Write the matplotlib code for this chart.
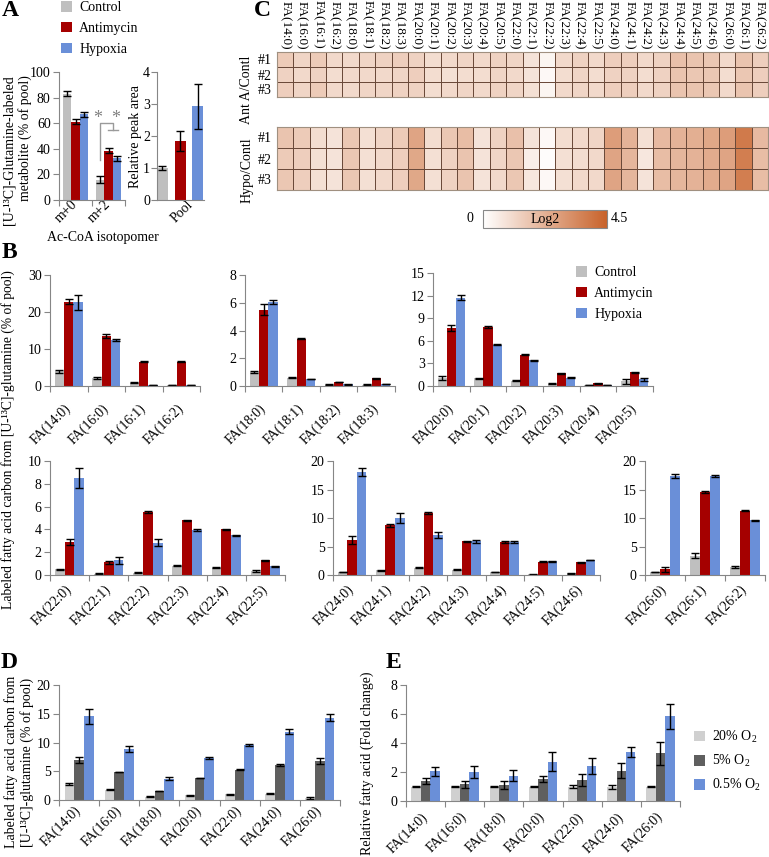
import numpy as np
import matplotlib
matplotlib.use("Agg")
import matplotlib.pyplot as plt
from matplotlib.colors import LinearSegmentedColormap
from matplotlib.patches import Patch

plt.rcParams['font.family'] = ['Liberation Serif', 'DejaVu Serif']
plt.rcParams['font.size'] = 10
plt.rcParams['mathtext.fontset'] = 'custom'
plt.rcParams['mathtext.rm'] = 'Liberation Serif'

C_CTRL, C_ANT, C_HYP = '#BFBFBF', '#A50000', '#6A8FD8'
C_20, C_5 = '#D0D0D0', '#5F5F5F'
AXC = '#868686'

# ---- panel A
a_iso = ['m+0', 'm+2']
a_ctrl, a_ctrl_err = [83, 16], [2, 2.5]
a_ant, a_ant_err = [61, 38.5], [2, 2]
a_hyp, a_hyp_err = [67, 32.5], [2, 2]
pool = [1.0, 1.85, 2.93]
pool_err = [0.06, 0.32, 0.7]

# ---- panel C (log2 ratio vs control)
fa_all = ['FA(14:0)', 'FA(16:0)', 'FA(16:1)', 'FA(16:2)', 'FA(18:0)', 'FA(18:1)',
          'FA(18:2)', 'FA(18:3)', 'FA(20:0)', 'FA(20:1)', 'FA(20:2)', 'FA(20:3)',
          'FA(20:4)', 'FA(20:5)', 'FA(22:0)', 'FA(22:1)', 'FA(22:2)', 'FA(22:3)',
          'FA(22:4)', 'FA(22:5)', 'FA(24:0)', 'FA(24:1)', 'FA(24:2)', 'FA(24:3)',
          'FA(24:4)', 'FA(24:5)', 'FA(24:6)', 'FA(26:0)', 'FA(26:1)', 'FA(26:2)']
ant_r1 = [1.5, 1.2, 1.5, 1.1, 1.1, 1.2, 1.3, 1.4, 1.3, 1.0, 1.1, 1.2, 1.1, 1.3, 1.2,
          0.8, 0.3, 1.1, 1.3, 1.1, 1.4, 1.4, 1.1, 1.3, 1.8, 1.7, 1.6, 1.1, 1.7, 1.4]
ant_r2 = [1.3, 1.1, 1.3, 1.0, 1.1, 1.1, 1.1, 1.2, 1.4, 1.0, 0.9, 1.0, 1.0, 1.2, 1.1,
          0.8, 0.2, 1.0, 1.2, 1.0, 1.3, 1.3, 1.0, 1.3, 1.7, 1.6, 1.6, 1.0, 1.6, 1.4]
ant_r3 = [1.4, 1.2, 1.5, 1.1, 1.1, 1.2, 1.2, 1.3, 1.3, 1.0, 1.1, 1.2, 1.1, 1.3, 1.2,
          0.9, 0.3, 1.1, 1.2, 1.1, 1.4, 1.4, 1.1, 1.3, 1.7, 1.7, 1.6, 1.1, 1.7, 1.4]
hyp_r1 = [1.7, 1.5, 1.0, 0.8, 1.6, 0.9, 1.2, 1.5, 2.6, 1.0, 1.6, 1.9, 0.8, 1.3, 1.8,
          0.8, 0.2, 1.0, 1.1, 1.2, 2.8, 2.2, 0.9, 2.0, 2.2, 2.3, 2.5, 2.8, 3.8, 2.0]
hyp_r2 = [1.5, 1.4, 0.9, 0.8, 1.6, 0.9, 1.1, 1.4, 2.5, 0.9, 1.3, 1.7, 0.8, 1.2, 1.6,
          0.5, 0.1, 0.9, 1.0, 1.1, 2.6, 2.1, 0.7, 1.9, 2.1, 2.2, 2.4, 2.6, 3.7, 1.9]
hyp_r3 = [1.6, 1.4, 0.9, 0.8, 1.6, 0.9, 1.1, 1.4, 2.5, 0.9, 1.3, 1.7, 0.8, 1.1, 1.6,
          0.7, 0.2, 0.9, 1.1, 1.1, 2.6, 2.1, 0.8, 1.9, 2.1, 2.2, 2.4, 2.6, 3.7, 1.9]

# ---- panel B
b1_cats = ['FA(14:0)', 'FA(16:0)', 'FA(16:1)', 'FA(16:2)']
b1_ctrl, b1_ctrl_e = [4.0, 2.2, 0.9, 0.2], [0.4, 0.2, 0.1, 0.05]
b1_ant, b1_ant_e = [22.8, 13.6, 6.6, 6.6], [0.6, 0.5, 0.15, 0.15]
b1_hyp, b1_hyp_e = [22.6, 12.4, 0.3, 0.3], [2.0, 0.2, 0.05, 0.05]

b2_cats = ['FA(18:0)', 'FA(18:1)', 'FA(18:2)', 'FA(18:3)']
b2_ctrl, b2_ctrl_e = [1.0, 0.6, 0.1, 0.1], [0.08, 0.03, 0.02, 0.02]
b2_ant, b2_ant_e = [5.5, 3.4, 0.3, 0.55], [0.4, 0.04, 0.02, 0.03]
b2_hyp, b2_hyp_e = [6.05, 0.5, 0.12, 0.15], [0.15, 0.03, 0.02, 0.02]

b3_cats = ['FA(20:0)', 'FA(20:1)', 'FA(20:2)', 'FA(20:3)', 'FA(20:4)', 'FA(20:5)']
b3_ctrl, b3_ctrl_e = [1.1, 1.0, 0.7, 0.3, 0.15, 0.6], [0.25, 0.1, 0.05, 0.05, 0.02, 0.3]
b3_ant, b3_ant_e = [7.7, 7.85, 4.15, 1.7, 0.35, 1.8], [0.45, 0.1, 0.1, 0.08, 0.03, 0.1]
b3_hyp, b3_hyp_e = [11.7, 5.5, 3.4, 1.1, 0.1, 0.9], [0.35, 0.05, 0.05, 0.05, 0.02, 0.2]

b4_cats = ['FA(22:0)', 'FA(22:1)', 'FA(22:2)', 'FA(22:3)', 'FA(22:4)', 'FA(22:5)']
b4_ctrl, b4_ctrl_e = [0.5, 0.1, 0.2, 0.8, 0.65, 0.35], [0.05, 0.05, 0.05, 0.05, 0.05, 0.05]
b4_ant, b4_ant_e = [2.9, 1.1, 5.5, 4.8, 4.0, 1.3], [0.3, 0.1, 0.1, 0.03, 0.05, 0.03]
b4_hyp, b4_hyp_e = [8.5, 1.3, 2.85, 3.95, 3.5, 0.75], [0.85, 0.3, 0.3, 0.05, 0.05, 0.05]

b5_cats = ['FA(24:0)', 'FA(24:1)', 'FA(24:2)', 'FA(24:3)', 'FA(24:4)', 'FA(24:5)', 'FA(24:6)']
b5_ctrl, b5_ctrl_e = [0.5, 0.8, 1.3, 0.9, 0.5, 0.1, 0.3], [0.05, 0.1, 0.1, 0.1, 0.05, 0.05, 0.05]
b5_ant, b5_ant_e = [6.2, 8.7, 10.9, 5.9, 5.8, 2.3, 2.2], [0.7, 0.3, 0.2, 0.1, 0.1, 0.1, 0.1]
b5_hyp, b5_hyp_e = [18.1, 10.0, 7.0, 5.9, 5.8, 2.4, 2.65], [0.7, 0.9, 0.5, 0.2, 0.15, 0.05, 0.05]

b6_cats = ['FA(26:0)', 'FA(26:1)', 'FA(26:2)']
b6_ctrl, b6_ctrl_e = [0.5, 3.4, 1.4], [0.05, 0.45, 0.1]
b6_ant, b6_ant_e = [1.0, 14.5, 11.3], [0.4, 0.2, 0.1]
b6_hyp, b6_hyp_e = [17.4, 17.4, 9.6], [0.4, 0.2, 0.05]

# ---- panels D / E
de_cats = ['FA(14:0)', 'FA(16:0)', 'FA(18:0)', 'FA(20:0)', 'FA(22:0)', 'FA(24:0)', 'FA(26:0)']
d_20, d_20_e = [2.8, 1.8, 0.6, 0.8, 1.0, 1.1, 0.4], [0.2, 0.1, 0.05, 0.05, 0.05, 0.1, 0.2]
d_5, d_5_e = [7.0, 4.9, 1.6, 3.8, 5.3, 6.1, 6.8], [0.5, 0.05, 0.05, 0.05, 0.1, 0.2, 0.5]
d_05, d_05_e = [14.6, 8.9, 3.7, 7.3, 9.6, 11.9, 14.3], [1.3, 0.5, 0.3, 0.2, 0.2, 0.4, 0.6]
e_20, e_20_e = [1.0, 1.0, 1.0, 1.0, 1.0, 0.95, 1.0], [0.03, 0.03, 0.03, 0.03, 0.1, 0.15, 0.03]
e_5, e_5_e = [1.4, 1.15, 1.1, 1.5, 1.45, 2.1, 3.3], [0.2, 0.25, 0.25, 0.2, 0.4, 0.5, 0.8]
e_05, e_05_e = [2.05, 2.0, 1.75, 2.7, 2.4, 3.4, 5.85], [0.3, 0.4, 0.4, 0.65, 0.55, 0.35, 0.85]

W, H = 769, 857
fig = plt.figure(figsize=(W / 100, H / 100), dpi=100)


def px_axes(x0, y0, x1, y1):
    return fig.add_axes([x0 / W, 1 - y1 / H, (x1 - x0) / W, (y1 - y0) / H])


def style(ax, n, lo=-0.5, hi=None, pad=5):
    hi = n - 0.5 if hi is None else hi
    for s in ['top', 'right']:
        ax.spines[s].set_visible(False)
    for s in ['left', 'bottom']:
        ax.spines[s].set_color(AXC)
        ax.spines[s].set_linewidth(0.8)
    ax.tick_params(axis='y', color=AXC, length=4, width=0.8, labelsize=10, pad=2)
    ax.set_xticks(np.arange(n + 1) - 0.5, minor=True)
    ax.tick_params(axis='x', which='minor', length=4, color=AXC, width=0.8)
    ax.tick_params(axis='x', which='major', length=0, pad=pad)
    ax.set_xlim(lo, hi)


def grouped(ax, cats, groups, colors, ylim, yticks, width=0.25, fs=10, pad=5):
    x = np.arange(len(cats))
    for k, ((v, e), c) in enumerate(zip(groups, colors)):
        ax.bar(x + (k - 1) * width, v, width, color=c, yerr=e, capsize=2.6,
               error_kw=dict(elinewidth=1, capthick=1, ecolor='black'))
    style(ax, len(cats), pad=pad)
    ax.set_xticks(x)
    ax.set_xticklabels(cats, rotation=45, ha='right', va='center',
                       rotation_mode='anchor', fontsize=fs)
    ax.set_ylim(*ylim)
    ax.set_yticks(yticks)


def legend(labels, colors, x, y):
    handles = [Patch(facecolor=c, edgecolor='none') for c in colors]
    fig.legend(handles, labels, loc='upper left', bbox_to_anchor=(x / W, 1 - y / H),
               frameon=False, fontsize=10, handlelength=0.8, handleheight=0.8,
               handletextpad=0.5, labelspacing=0.55, borderpad=0, borderaxespad=0)


# ---------------- A
axA = px_axes(59, 72, 125, 200)
grouped(axA, a_iso, [(a_ctrl, a_ctrl_err), (a_ant, a_ant_err), (a_hyp, a_hyp_err)],
        [C_CTRL, C_ANT, C_HYP], (0, 100), range(0, 101, 20), pad=2)
axA.plot([0.75, 0.75, 1.125, 1.125], [31, 60, 60, 55], color='#9a9a9a', lw=1)
axA.plot([0.98, 1.3], [55, 55], color='#9a9a9a', lw=1)
axA.text(0.96, 60.5, '*  *', color='#808080', fontsize=13, ha='center', va='baseline')

axA2 = px_axes(157, 72, 204, 200)
axA2.bar(np.arange(3), pool, 0.62, color=[C_CTRL, C_ANT, C_HYP], yerr=pool_err,
         capsize=3, error_kw=dict(elinewidth=1, capthick=1, ecolor='black'))
style(axA2, 1, -0.3, 2.35, pad=2)
axA2.set_xticks([], minor=True)
axA2.set_xticks([1.6])
axA2.set_xticklabels(['Pool'], rotation=45, ha='right', va='center', rotation_mode='anchor')
axA2.set_ylim(0, 4)
axA2.set_yticks(range(5))
axA2.tick_params(axis='y', pad=1)

fig.text(9 / W, 1 - 150 / H, '[U-¹³C]-Glutamine-labeled', rotation=90, ha='center', va='center')
fig.text(25 / W, 1 - 138 / H, 'metabolite (% of pool)', rotation=90, ha='center', va='center')
fig.text(135 / W, 1 - 136 / H, 'Relative peak area', rotation=90, ha='center', va='center')
fig.text(103 / W, 1 - 237 / H, 'Ac-CoA isotopomer', ha='center', va='center')
legend(['Control', 'Antimycin', 'Hypoxia'], [C_CTRL, C_ANT, C_HYP], 61, 1)

# ---------------- C
cmap = LinearSegmentedColormap.from_list('wo', ['#FFFFFF', '#C8622A'])
axC1 = px_axes(277, 52, 768, 97)
axC2 = px_axes(277, 127, 768, 190)
for ax, rows in [(axC1, [ant_r1, ant_r2, ant_r3]), (axC2, [hyp_r1, hyp_r2, hyp_r3])]:
    mesh = ax.pcolormesh(np.array(rows), cmap=cmap, vmin=0, vmax=4.5,
                         edgecolors='#6b4a3a', linewidth=0.6)
    ax.set_ylim(3, 0)
    ax.set_yticks([0.5, 1.5, 2.5])
    ax.set_yticklabels(['#1', '#2', '#3'], fontsize=10)
    ax.tick_params(length=0, pad=4)
    for s in ax.spines.values():
        s.set_color('#a09080')
        s.set_linewidth(0.8)
    ax.set_xticks([])
axC1.xaxis.tick_top()
axC1.set_xticks(np.arange(len(fa_all)) + 0.5)
axC1.set_xticklabels(fa_all, rotation=270, ha='center', va='bottom', fontsize=9.5)
axC1.tick_params(axis='x', length=0, pad=2)
fig.text(247 / W, 1 - 90 / H, 'Ant A/Contl', rotation=90, ha='center', va='center')
fig.text(247 / W, 1 - 170 / H, 'Hypo/Contl', rotation=90, ha='center', va='center')

cax = px_axes(483, 210, 607, 228)
cb = fig.colorbar(mesh, cax=cax, orientation='horizontal')
cb.set_ticks([])
cb.outline.set_edgecolor('#888888')
cb.outline.set_linewidth(0.8)
cax.text(0.5, 0.5, 'Log2', transform=cax.transAxes, ha='center', va='center')
fig.text(470 / W, 1 - 219 / H, '0', ha='center', va='center')
fig.text(619 / W, 1 - 219 / H, '4.5', ha='center', va='center')

# ---------------- B
bcol = [C_CTRL, C_ANT, C_HYP]
axB1 = px_axes(50, 275, 200, 386)
grouped(axB1, b1_cats, [(b1_ctrl, b1_ctrl_e), (b1_ant, b1_ant_e), (b1_hyp, b1_hyp_e)],
        bcol, (0, 30), range(0, 31, 10), pad=15)
axB2 = px_axes(245, 275, 395, 386)
grouped(axB2, b2_cats, [(b2_ctrl, b2_ctrl_e), (b2_ant, b2_ant_e), (b2_hyp, b2_hyp_e)],
        bcol, (0, 8), range(0, 9, 2), pad=15)
axB3 = px_axes(433, 273, 653, 386)
grouped(axB3, b3_cats, [(b3_ctrl, b3_ctrl_e), (b3_ant, b3_ant_e), (b3_hyp, b3_hyp_e)],
        bcol, (0, 15), range(0, 16, 3), pad=15)
axB4 = px_axes(50, 461, 285, 575)
grouped(axB4, b4_cats, [(b4_ctrl, b4_ctrl_e), (b4_ant, b4_ant_e), (b4_hyp, b4_hyp_e)],
        bcol, (0, 10), range(0, 11, 2), pad=9)
axB5 = px_axes(333, 461, 600, 575)
grouped(axB5, b5_cats, [(b5_ctrl, b5_ctrl_e), (b5_ant, b5_ant_e), (b5_hyp, b5_hyp_e)],
        bcol, (0, 20), range(0, 21, 5), pad=9)
axB6 = px_axes(645, 461, 765, 575)
grouped(axB6, b6_cats, [(b6_ctrl, b6_ctrl_e), (b6_ant, b6_ant_e), (b6_hyp, b6_hyp_e)],
        bcol, (0, 20), range(0, 21, 5), pad=9)
legend(['Control', 'Antimycin', 'Hypoxia'], bcol, 576, 266)
fig.text(8 / W, 1 - 440 / H, 'Labeled fatty acid carbon from [U-¹³C]-glutamine (% of pool)',
         rotation=90, ha='center', va='center', fontsize=9.8)

# ---------------- D / E
dcol = [C_20, C_5, C_HYP]
axD = px_axes(59, 685, 340, 800)
grouped(axD, de_cats, [(d_20, d_20_e), (d_5, d_5_e), (d_05, d_05_e)],
        dcol, (0, 20), range(0, 21, 5), width=0.24, pad=6)
fig.text(11 / W, 1 - 762 / H, 'Labeled fatty acid carbon from', rotation=90, ha='center', va='center')
fig.text(27 / W, 1 - 762 / H, '[U-¹³C]-glutamine (% of pool)', rotation=90, ha='center', va='center')

axE = px_axes(406, 685, 680, 801)
grouped(axE, de_cats, [(e_20, e_20_e), (e_5, e_5_e), (e_05, e_05_e)],
        dcol, (0, 8), range(0, 9, 2), width=0.24, pad=10)
fig.text(367 / W, 1 - 763 / H, 'Relative fatty acid (Fold change)', rotation=90, ha='center', va='center')
legend(['20% O$_2$', '5% O$_2$', '0.5% O$_2$'], dcol, 694, 729)

# panel letters
for lab, x, y in [('A', 2, 10), ('B', 2, 253), ('C', 254, 10), ('D', 1, 662), ('E', 386, 662)]:
    fig.text(x / W, 1 - y / H, lab, fontsize=17, fontweight='bold', ha='left', va='center')

fig.savefig('out.png', dpi=100, facecolor='white')
